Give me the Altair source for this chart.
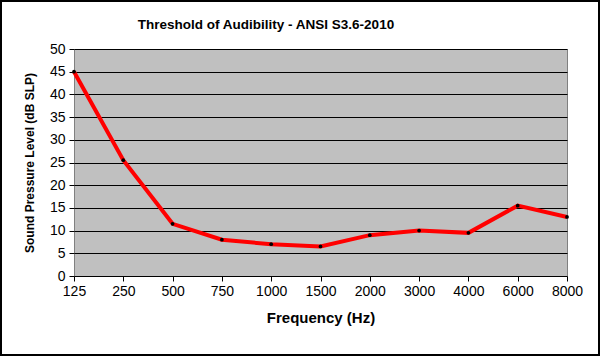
import altair as alt
import pandas as pd

freqs = ["125", "250", "500", "750", "1000", "1500", "2000", "3000", "4000", "6000", "8000"]
levels = [45, 25.5, 11.5, 8, 7, 6.5, 9, 10, 9.5, 15.5, 13]
title_text = "Threshold of Audibility  - ANSI S3.6-2010"

df = pd.DataFrame({"freq": freqs, "level": levels})

W, H = 493, 227
PL, PT = 74, 49
FONT = "Liberation Sans"

x = alt.X("freq:N", sort=freqs,
          scale=alt.Scale(type="point", padding=0),
          axis=alt.Axis(title="Frequency (Hz)", labelAngle=0, labelFontSize=14,
                        labelColor="#000", titleFontSize=15, titleFontWeight="bold",
                        titleColor="#000", titlePadding=12, tickColor="#000",
                        tickSize=5, labelPadding=3, domain=False, grid=False))
y = alt.Y("level:Q", scale=alt.Scale(domain=[0, 50], nice=False),
          axis=alt.Axis(title="Sound Pressure  Level (dB SLP)", values=list(range(0, 55, 5)),
                        labelFontSize=14, labelColor="#000", titleFontSize=12,
                        titleFontWeight="bold", titleColor="#000", titlePadding=13,
                        tickColor="#000", tickSize=5, labelPadding=4,
                        grid=True, gridColor="#000", gridOpacity=1, domain=False))

base = alt.Chart(df)
line = base.mark_line(color="#ff0000", strokeWidth=4).encode(x=x, y=y)
pts = base.mark_circle(color="#000", size=14, opacity=1).encode(x=x, y=y)

one = pd.DataFrame({"t": [title_text]})
border = alt.Chart(one).mark_rect(
    fill=None, stroke="#000", strokeWidth=2
).encode(x=alt.value(-PL + 1), x2=alt.value(600 - PL - 1),
         y=alt.value(-PT + 1), y2=alt.value(356 - PT - 1))

title = alt.Chart(one).mark_text(
    font=FONT, fontSize=13.5, fontWeight="bold", color="#000",
    align="center", baseline="alphabetic"
).encode(text="t:N", x=alt.value(266 - PL), y=alt.value(29 - PT))

chart = alt.layer(line, pts, border, title).properties(
    width=W, height=H,
    padding={"left": PL, "top": PT, "right": 600 - PL - W, "bottom": 356 - PT - H},
    autosize=alt.AutoSizeParams(type="none"),
).configure(font=FONT).configure_view(
    fill="#c0c0c0", stroke="#808080", strokeWidth=1
).configure_axis(labelFont=FONT, titleFont=FONT)

chart.save("out.html", embed_options={"renderer": "svg", "actions": False})
